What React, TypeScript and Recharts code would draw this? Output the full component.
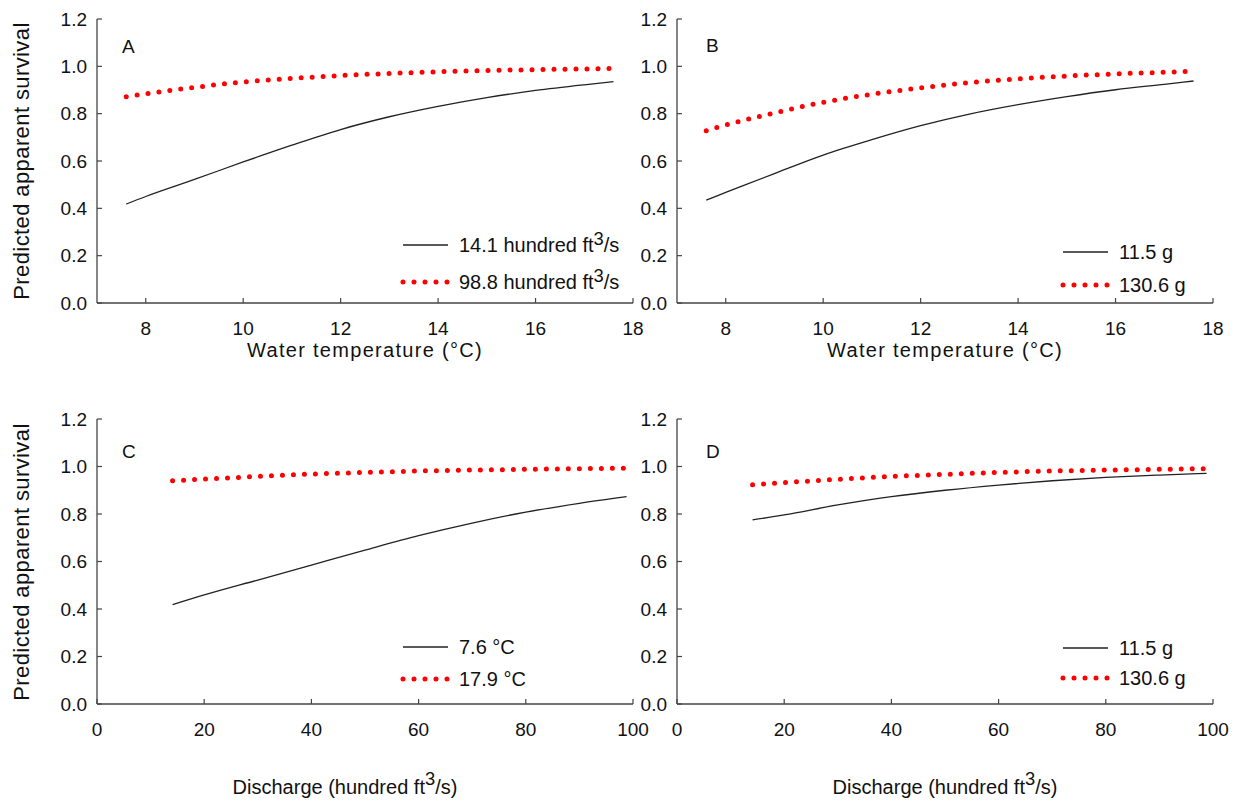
import { LineChart, Line, XAxis, YAxis } from "recharts";

// x positions of the predicted curves
const tempX = [7.6, 8, 9, 10, 11, 12, 13, 14, 15, 16, 17, 17.6];
const dischargeX = [14.1, 20, 30, 40, 50, 60, 70, 80, 90, 98.8];

// A: survival vs temperature, by discharge
const aLowFlow = [0.418, 0.45, 0.522, 0.596, 0.667, 0.733, 0.787, 0.831, 0.868, 0.898, 0.922, 0.935];
const aHighFlow = [0.872, 0.884, 0.911, 0.934, 0.949, 0.961, 0.97, 0.977, 0.982, 0.986, 0.989, 0.991];
// B: survival vs temperature, by fish weight
const bSmall = [0.435, 0.467, 0.547, 0.625, 0.69, 0.749, 0.798, 0.838, 0.872, 0.901, 0.924, 0.938];
const bLarge = [0.728, 0.752, 0.803, 0.848, 0.882, 0.909, 0.931, 0.947, 0.959, 0.968, 0.975, 0.979];
// C: survival vs discharge, by temperature
const cCold = [0.418, 0.459, 0.522, 0.585, 0.648, 0.709, 0.762, 0.808, 0.845, 0.873];
const cWarm = [0.94, 0.947, 0.958, 0.968, 0.975, 0.981, 0.985, 0.988, 0.991, 0.993];
// D: survival vs discharge, by fish weight
const dSmall = [0.775, 0.796, 0.838, 0.873, 0.9, 0.922, 0.94, 0.954, 0.964, 0.971];
const dLarge = [0.923, 0.932, 0.946, 0.958, 0.967, 0.975, 0.981, 0.985, 0.988, 0.991];

const tempTicks = [8, 10, 12, 14, 16, 18];
const dischargeTicks = [0, 20, 40, 60, 80, 100];
const survivalTicks = [0, 0.2, 0.4, 0.6, 0.8, 1.0, 1.2];

const FONT = "Arial, 'Liberation Sans', Helvetica, sans-serif";
const FRAME = "#444";
const RED = "#f00";
const DOTS = "0 11";

const Sup = ({ top = -7 }: { top?: number }) => (
  <span style={{ position: "relative", top, fontSize: "0.92em" }}>3</span>
);

const tickStyle = { fontSize: 19, fill: "#111", fontFamily: FONT };

type PanelProps = {
  left: number;
  top: number;
  w: number;
  h: number;
  xs: number[];
  solid: number[];
  dotted: number[];
  domain: [number, number];
  xTicks: number[];
  letter: string;
  letterX: number;
  letterY: number;
  legendX: number;
  legendY1: number;
  legendY2: number;
  label1: React.ReactNode;
  label2: React.ReactNode;
};

const Panel = (p: PanelProps) => {
  const data = p.xs.map((x, i) => ({ x, solid: p.solid[i], dotted: p.dotted[i] }));
  return (
    <>
      <div style={{ position: "absolute", left: p.left - 60, top: p.top - 10 }}>
        <LineChart
          width={p.w + 90}
          height={p.h + 50}
          data={data}
          margin={{ top: 10, right: 30, left: 0, bottom: 0 }}
        >
          <XAxis
            dataKey="x"
            type="number"
            domain={p.domain}
            ticks={p.xTicks}
            interval={0}
            allowDataOverflow
            height={40}
            tickSize={-5}
            tickMargin={24}
            tick={tickStyle}
            fontSize={19}
            axisLine={{ stroke: FRAME, strokeWidth: 1.3 }}
            tickLine={{ stroke: FRAME, strokeWidth: 1.2 }}
          />
          <XAxis
            xAxisId="top"
            orientation="top"
            type="number"
            domain={p.domain}
            ticks={p.xTicks}
            interval={0}
            allowDataOverflow
            height={0}
            tickSize={-5}
            tick={false}
            axisLine={{ stroke: FRAME, strokeWidth: 1.3 }}
            tickLine={{ stroke: FRAME, strokeWidth: 1.2 }}
          />
          <YAxis
            type="number"
            domain={[0, 1.2]}
            ticks={survivalTicks}
            interval={0}
            allowDataOverflow
            width={60}
            tickSize={-5}
            tickMargin={15}
            tick={tickStyle}
            fontSize={19}
            tickFormatter={(v: number) => v.toFixed(1)}
            axisLine={{ stroke: FRAME, strokeWidth: 1.3 }}
            tickLine={{ stroke: FRAME, strokeWidth: 1.2 }}
          />
          <YAxis
            yAxisId="right"
            orientation="right"
            type="number"
            domain={[0, 1.2]}
            ticks={survivalTicks}
            interval={0}
            allowDataOverflow
            width={0}
            tickSize={-5}
            tick={false}
            axisLine={{ stroke: FRAME, strokeWidth: 1.3 }}
            tickLine={{ stroke: FRAME, strokeWidth: 1.2 }}
          />
          <Line
            dataKey="solid"
            type="monotone"
            stroke="#222"
            strokeWidth={1.3}
            dot={false}
            isAnimationActive={false}
          />
          <Line
            dataKey="dotted"
            type="monotone"
            stroke={RED}
            strokeWidth={5}
            strokeDasharray={DOTS}
            strokeLinecap="round"
            dot={false}
            isAnimationActive={false}
          />
        </LineChart>
      </div>
      <div
        style={{
          position: "absolute",
          left: p.letterX,
          top: p.letterY - 11,
          fontSize: 19,
          fontFamily: FONT,
          color: "#111",
          lineHeight: "22px",
        }}
      >
        {p.letter}
      </div>
      <svg
        style={{ position: "absolute", left: 0, top: 0, overflow: "visible" }}
        width={1}
        height={1}
      >
        <line x1={p.legendX} x2={p.legendX + 45} y1={p.legendY1} y2={p.legendY1} stroke="#222" strokeWidth={1.3} />
        <line
          x1={p.legendX}
          x2={p.legendX + 45}
          y1={p.legendY2}
          y2={p.legendY2}
          stroke={RED}
          strokeWidth={5}
          strokeDasharray={DOTS}
          strokeLinecap="round"
        />
      </svg>
      {[
        { y: p.legendY1, t: p.label1 },
        { y: p.legendY2, t: p.label2 },
      ].map((r, i) => (
        <div
          key={i}
          style={{
            position: "absolute",
            left: p.legendX + 56,
            top: r.y - 12,
            fontSize: 20,
            lineHeight: "24px",
            fontFamily: FONT,
            color: "#111",
            whiteSpace: "nowrap",
          }}
        >
          {r.t}
        </div>
      ))}
    </>
  );
};

const xTitle = (text: React.ReactNode, cx: number, cy: number, spacing = 0) => (
  <div
    style={{
      position: "absolute",
      left: cx - 200,
      width: 400,
      top: cy - 13,
      textAlign: "center",
      fontSize: 20,
      lineHeight: "26px",
      letterSpacing: spacing,
      fontFamily: FONT,
      color: "#111",
    }}
  >
    {text}
  </div>
);

const yTitle = (cy: number) => (
  <div
    style={{
      position: "absolute",
      left: 22 - 160,
      top: cy - 13,
      width: 320,
      textAlign: "center",
      fontSize: 22,
      letterSpacing: 0.4,
      lineHeight: "26px",
      fontFamily: FONT,
      color: "#111",
      transform: "rotate(-90deg)",
    }}
  >
    Predicted apparent survival
  </div>
);

export default function App() {
  return (
    <div
      style={{
        position: "absolute",
        left: 0,
        top: 0,
        width: 1234,
        height: 802,
        background: "#fff",
        overflow: "hidden",
      }}
    >
      <Panel
        left={97} top={19} w={536} h={284}
        xs={tempX} solid={aLowFlow} dotted={aHighFlow}
        domain={[7, 18]} xTicks={tempTicks}
        letter="A" letterX={122} letterY={47}
        legendX={403} legendY1={245} legendY2={282}
        label1={<>14.1 hundred ft<Sup />/s</>}
        label2={<>98.8 hundred ft<Sup />/s</>}
      />
      <Panel
        left={677} top={19} w={536} h={284}
        xs={tempX} solid={bSmall} dotted={bLarge}
        domain={[7, 18]} xTicks={tempTicks}
        letter="B" letterX={706} letterY={46}
        legendX={1063} legendY1={252} legendY2={285}
        label1="11.5 g"
        label2="130.6 g"
      />
      <Panel
        left={97} top={419} w={536} h={285}
        xs={dischargeX} solid={cCold} dotted={cWarm}
        domain={[0, 100]} xTicks={dischargeTicks}
        letter="C" letterX={122} letterY={452}
        legendX={403} legendY1={647} legendY2={679}
        label1="7.6 °C"
        label2="17.9 °C"
      />
      <Panel
        left={677} top={419} w={536} h={285}
        xs={dischargeX} solid={dSmall} dotted={dLarge}
        domain={[0, 100]} xTicks={dischargeTicks}
        letter="D" letterX={706} letterY={452}
        legendX={1063} legendY1={648} legendY2={678}
        label1="11.5 g"
        label2="130.6 g"
      />
      {yTitle(161)}
      {yTitle(562)}
      {xTitle("Water temperature (°C)", 365, 350, 1.3)}
      {xTitle("Water temperature (°C)", 945, 350, 1.3)}
      {xTitle(<>Discharge (hundred ft<Sup top={-9} />/s)</>, 345, 787)}
      {xTitle(<>Discharge (hundred ft<Sup top={-9} />/s)</>, 945, 787)}
    </div>
  );
}
